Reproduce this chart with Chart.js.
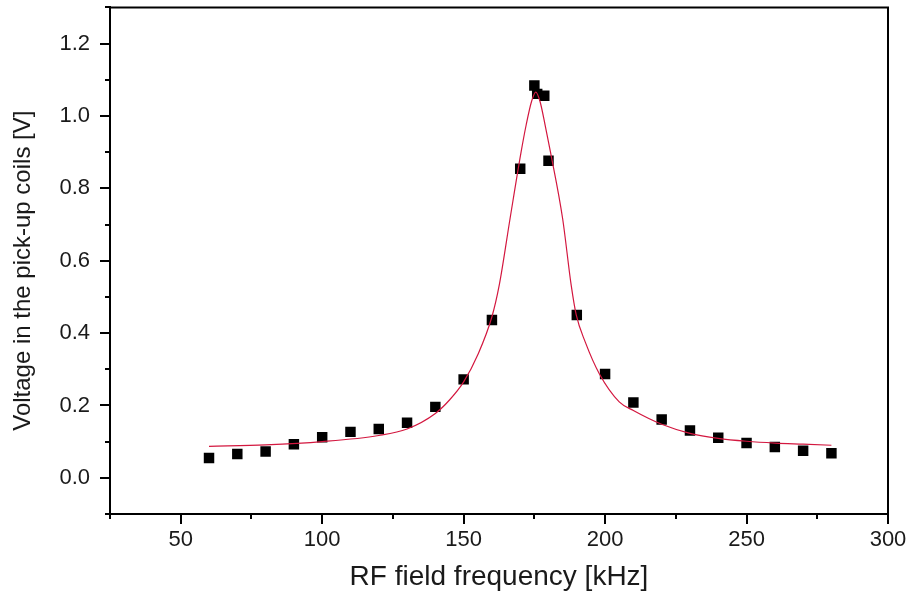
<!DOCTYPE html>
<html>
<head>
<meta charset="utf-8">
<script src="https://cdn.jsdelivr.net/npm/chart.js@4"></script>
<style>
  html, body { margin: 0; padding: 0; background: #fff; }
  #wrap { width: 912px; height: 596px; }
</style>
</head>
<body>
<div id="wrap"><canvas id="chart" width="912" height="596"></canvas></div>
<script>
// measured points
const freqKHz = [60, 70, 80, 90, 100, 110, 120, 130, 140, 150, 160, 170, 175, 176, 178.5, 180, 190, 200, 210, 220, 230, 240, 250, 260, 270, 280];
const voltageV = [0.055, 0.066, 0.073, 0.093, 0.112, 0.127, 0.135, 0.152, 0.196, 0.272, 0.436, 0.854, 1.084, 1.061, 1.056, 0.876, 0.450, 0.287, 0.208, 0.161, 0.131, 0.111, 0.096, 0.085, 0.075, 0.068];

// fitted curve
const fitX = [60, 80, 100, 120, 130, 140, 145, 150, 155, 160, 162.6, 166.4, 170.3, 172.1, 174, 175.5, 177, 178.8, 180.7, 185, 188, 189.8, 193, 198, 205, 210, 220, 230, 240, 250, 260, 270, 280];
const fitY = [0.087, 0.091, 0.100, 0.117, 0.135, 0.178, 0.215, 0.265, 0.34, 0.445, 0.533, 0.716, 0.900, 0.975, 1.040, 1.066, 1.040, 0.975, 0.900, 0.716, 0.533, 0.450, 0.375, 0.287, 0.210, 0.186, 0.148, 0.123, 0.109, 0.101, 0.096, 0.093, 0.090];

const xLabels = [50, 100, 150, 200, 250, 300];
const yLabels = [0.0, 0.2, 0.4, 0.6, 0.8, 1.0, 1.2];

const inkColor = "#1a1a1a";
const fontFamily = "'Liberation Sans', Arial, sans-serif";

function isMajorX(v) { return xLabels.some(l => Math.abs(l - v) < 1e-6); }
function isMajorY(v) { return yLabels.some(l => Math.abs(l - v) < 1e-6); }

// axis ticks (long for labelled, short for the rest) and the top/right frame
const framePlugin = {
  id: "frame",
  afterDraw(chart) {
    const ctx = chart.ctx;
    const area = chart.chartArea;
    const xs = chart.scales.x;
    const ys = chart.scales.y;
    ctx.save();
    ctx.strokeStyle = "#000";
    ctx.lineWidth = 2;
    ctx.beginPath();
    xs.ticks.forEach((t, i) => {
      const px = Math.round(xs.getPixelForTick(i));
      const len = isMajorX(t.value) ? 10 : 5;
      ctx.moveTo(px, area.bottom);
      ctx.lineTo(px, area.bottom + len);
    });
    ys.ticks.forEach((t, i) => {
      const py = Math.round(ys.getPixelForTick(i));
      const len = isMajorY(t.value) ? 10 : 5;
      ctx.moveTo(area.left, py);
      ctx.lineTo(area.left - len, py);
    });
    ctx.stroke();
    ctx.beginPath();
    ctx.moveTo(area.left - 1, area.top);
    ctx.lineTo(area.right, area.top);
    ctx.lineTo(area.right, area.bottom + 1);
    ctx.stroke();
    ctx.restore();
  }
};

const ctx = document.getElementById("chart").getContext("2d");

new Chart(ctx, {
  type: "scatter",
  data: {
    datasets: [
      {
        label: "Fit",
        data: fitX.map((x, i) => ({ x: x, y: fitY[i] })),
        showLine: true,
        borderColor: "#d3173f",
        borderWidth: 1.2,
        pointRadius: 0,
        cubicInterpolationMode: "monotone",
        fill: false
      },
      {
        label: "Data",
        data: freqKHz.map((x, i) => ({ x: x, y: voltageV[i] })),
        showLine: false,
        pointStyle: "rect",
        pointRadius: 7.4,
        backgroundColor: "#000",
        borderColor: "#000",
        borderWidth: 0
      }
    ]
  },
  options: {
    responsive: false,
    animation: false,
    layout: { padding: { left: 0, right: 24, top: 5, bottom: 0 } },
    plugins: {
      legend: { display: false },
      tooltip: { enabled: false }
    },
    scales: {
      x: {
        type: "linear",
        min: 25,
        max: 300,
        afterFit(scale) {
          scale.height = 82;
          scale.paddingLeft = 0;
          scale.paddingRight = 0;
        },
        border: { display: true, color: "#000", width: 2 },
        grid: { drawOnChartArea: false, drawTicks: false },
        ticks: {
          stepSize: 25,
          autoSkip: false,
          maxRotation: 0,
          padding: 13,
          color: inkColor,
          font: { family: fontFamily, size: 22 },
          callback: (v) => isMajorX(v) ? String(v) : ""
        },
        title: {
          display: true,
          text: "RF field frequency [kHz]",
          color: inkColor,
          font: { family: fontFamily, size: 28 },
          padding: { top: 0, bottom: 2 }
        }
      },
      y: {
        min: -0.1,
        max: 1.3,
        afterFit(scale) {
          scale.width = 110;
          scale.paddingTop = 0;
          scale.paddingBottom = 0;
        },
        border: { display: true, color: "#000", width: 2 },
        grid: { drawOnChartArea: false, drawTicks: false },
        ticks: {
          stepSize: 0.1,
          autoSkip: false,
          padding: 20,
          color: inkColor,
          font: { family: fontFamily, size: 22 },
          callback: (v) => isMajorY(v) ? Number(v).toFixed(1) : ""
        },
        title: {
          display: true,
          text: "Voltage in the pick-up coils [V]   ",
          color: inkColor,
          font: { family: fontFamily, size: 24 },
          padding: { top: 9, bottom: 0 }
        }
      }
    }
  },
  plugins: [framePlugin]
});
</script>
</body>
</html>
